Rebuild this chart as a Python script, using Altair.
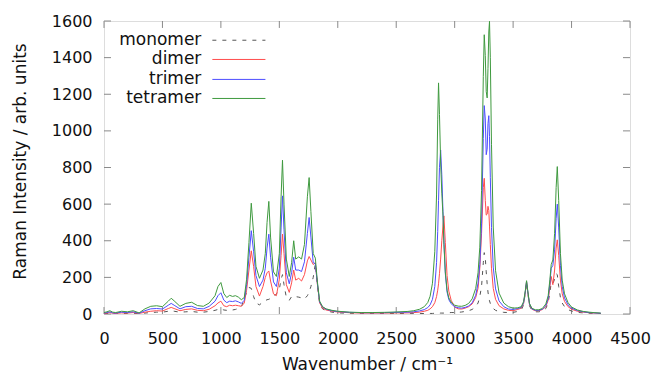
import altair as alt
import pandas as pd

# ---------------- data ----------------
wavenumber = [
    0, 25, 50, 75, 100,
    150, 200, 250, 300, 350,
    400, 450, 500, 550, 575,
    600, 650, 700, 750, 800,
    850, 900, 950, 975, 1000,
    1025, 1050, 1075, 1100, 1125,
    1150, 1175, 1200, 1220, 1240,
    1260, 1280, 1300, 1330, 1360,
    1380, 1395, 1410, 1425, 1450,
    1475, 1500, 1515, 1527, 1540,
    1560, 1585, 1605, 1623, 1640,
    1666, 1690, 1715, 1740, 1755,
    1770, 1790, 1808, 1825, 1845,
    1870, 1900, 1950, 2000, 2100,
    2200, 2300, 2400, 2500,
    2600, 2650, 2700, 2740, 2770,
    2790, 2810, 2830, 2845, 2855,
    2862, 2870, 2880, 2890, 2900,
    2908, 2920, 2935, 2950, 2970,
    3000, 3030, 3060, 3090, 3120,
    3150, 3180, 3200, 3215, 3230,
    3245, 3253, 3262, 3270, 3278,
    3285, 3292, 3298, 3305, 3315,
    3330, 3350, 3380, 3420, 3460,
    3500, 3540, 3570, 3590, 3605,
    3615, 3625, 3640, 3660, 3690,
    3720, 3750, 3780, 3800, 3815,
    3826, 3840, 3855, 3868, 3878,
    3890, 3905, 3920, 3940, 3970,
    4000, 4050, 4100, 4150, 4200,
    4250,
]

monomer = [
    2, 3, 4, 2, 2,
    3, 3, 4, 2, 5,
    8, 10, 10, 15, 18,
    15, 10, 12, 14, 10,
    10, 14, 20, 25, 30,
    22, 20, 24, 22, 25,
    30, 40, 80, 120, 145,
    140, 95, 60, 50, 65,
    73, 78, 80, 85, 92,
    110, 135, 190, 215, 160,
    90, 75, 95, 100, 95,
    92, 88, 82, 100, 120,
    150, 200, 275, 160, 55,
    28, 18, 10, 6, 4,
    3, 3, 3, 3,
    2, 2, 2, 3, 3,
    3, 3, 4, 4, 4,
    4, 4, 5, 5, 5,
    5, 6, 6, 7, 8,
    8, 9, 11, 14, 18,
    25, 40, 60, 95, 150,
    280, 335, 305, 230, 165,
    120, 90, 72, 58, 44,
    30, 20, 13, 9, 8,
    9, 14, 22, 50, 118,
    172, 118, 45, 20, 12,
    12, 16, 30, 60, 120,
    170, 165, 190, 220, 215,
    150, 90, 60, 40, 24,
    16, 9, 6, 4, 3,
    2,
]

dimer = [
    3, 5, 8, 4, 3,
    6, 5, 8, 3, 10,
    15, 18, 16, 30, 36,
    30, 18, 25, 28, 20,
    18, 26, 45, 60, 70,
    45, 40, 48, 45, 48,
    45, 42, 60, 130, 240,
    345, 260, 150, 98, 150,
    200, 225, 235, 180, 110,
    100, 190, 320, 436, 330,
    160, 118, 170, 240, 185,
    195, 180, 215, 290, 314,
    295, 270, 280, 165, 60,
    32, 22, 15, 11, 7,
    5, 5, 5, 6,
    6, 8, 10, 15, 20,
    28, 40, 62, 95, 130,
    165, 220, 300, 400, 480,
    536, 390, 210, 125, 75,
    38, 28, 27, 32, 40,
    55, 90, 140, 250, 440,
    690, 741, 620, 540, 545,
    588, 565, 480, 380, 250,
    140, 80, 45, 28, 20,
    18, 25, 32, 58, 122,
    176, 122, 52, 26, 18,
    18, 24, 40, 75, 150,
    205, 160, 240, 360, 405,
    320, 185, 110, 68, 40,
    26, 15, 10, 7, 5,
    3,
]

trimer = [
    5, 8, 12, 6, 5,
    10, 8, 12, 4, 18,
    28, 30, 27, 48, 58,
    48, 28, 40, 42, 30,
    28, 42, 70, 100, 116,
    76, 62, 70, 68, 72,
    66, 58, 75, 160, 310,
    455, 340, 210, 150, 185,
    250, 360, 436, 310, 175,
    150, 250, 470, 645, 460,
    225, 165, 225, 310, 240,
    240, 232, 285, 440, 527,
    420, 280, 275, 170, 65,
    38, 26, 18, 13, 9,
    7, 7, 7, 9,
    10, 12, 17, 24, 35,
    50, 80, 150, 280, 450,
    620, 800, 895, 760, 560,
    400, 220, 120, 78, 56,
    40, 34, 32, 36, 44,
    61, 102, 168, 270, 496,
    959, 1138, 1065, 870, 900,
    1040, 1083, 969, 747, 472,
    256, 137, 71, 40, 27,
    25, 30, 36, 62, 126,
    178, 125, 55, 28, 20,
    20, 26, 45, 85, 170,
    250, 265, 350, 520, 600,
    470, 265, 150, 88, 50,
    32, 19, 12, 8, 6,
    4,
]

tetramer = [
    8, 12, 18, 10, 8,
    15, 12, 18, 6, 28,
    42, 45, 40, 70, 86,
    72, 42, 58, 64, 46,
    42, 60, 100, 150, 172,
    112, 90, 102, 96, 100,
    92, 78, 90, 190, 390,
    605, 440, 260, 195, 240,
    330, 500, 615, 420, 230,
    205, 330, 640, 840, 600,
    300, 205, 280, 400, 300,
    312, 300, 380, 640, 745,
    560, 330, 305, 180, 70,
    40, 28, 20, 15, 10,
    8, 8, 9, 11,
    14, 18, 26, 40, 63,
    97, 168, 340, 650, 1060,
    1262, 1090, 830, 660, 540,
    380, 230, 130, 88, 64,
    48, 43, 42, 47, 58,
    83, 140, 225, 365, 675,
    1298, 1525, 1411, 1215, 1180,
    1340, 1540, 1598, 1402, 927,
    475, 236, 114, 60, 40,
    32, 34, 40, 68, 130,
    182, 128, 58, 32, 23,
    23, 30, 55, 100, 190,
    270, 295, 440, 690, 805,
    620, 330, 185, 110, 62,
    38, 22, 14, 10, 7,
    5,
]

series_names = ["monomer", "dimer", "trimer", "tetramer"]
series_colors = ["#555555", "#ff4d4d", "#4d4dff", "#3f9a3f"]

x_ticks = [0, 500, 1000, 1500, 2000, 2500, 3000, 3500, 4000, 4500]
y_ticks = [0, 200, 400, 600, 800, 1000, 1200, 1400, 1600]

# legend placement in data coordinates
legend_y = [1495, 1390, 1281, 1177]
legend_text_x = 833
legend_line_x = [927, 1381]

FONT = "DejaVu Sans"
xscale = alt.Scale(domain=[0, 4500], nice=False, zero=False)
yscale = alt.Scale(domain=[0, 1600], nice=False, zero=False)

X_AXIS = alt.Axis(values=x_ticks, format="d", labelOverlap=False, labelFlush=False,
                  ticks=False, domain=False, grid=False,
                  labelFontSize=16, labelPadding=16, labelColor="#111111", labelFont=FONT,
                  title="Wavenumber / cm⁻¹", titleFontSize=17, titleFont=FONT,
                  titleFontWeight="normal", titleColor="#111111",
                  titleX=263, titleY=50, titleBaseline="middle", titleAlign="center")
Y_AXIS = alt.Axis(values=y_ticks, format="d", labelOverlap=False, labelFlush=False,
                  ticks=False, domain=False, grid=False,
                  labelFontSize=16, labelPadding=12, labelColor="#111111", labelFont=FONT,
                  title="Raman Intensity / arb. units", titleFontSize=17, titleFont=FONT,
                  titleFontWeight="normal", titleColor="#111111",
                  titleX=-84, titleY=140, titleBaseline="middle", titleAlign="center",
                  titleAngle=270)


def X(field="wn"):
    return alt.X(f"{field}:Q", scale=xscale, axis=X_AXIS)


def Y(field="v"):
    return alt.Y(f"{field}:Q", scale=yscale, axis=Y_AXIS)


# inward ticks on all four sides
tick_rows = []
for t in x_ticks:
    tick_rows.append({"wn": t, "wn2": t, "v": 0, "v2": 38})
    tick_rows.append({"wn": t, "wn2": t, "v": 1562, "v2": 1600})
for t in y_ticks:
    tick_rows.append({"wn": 0, "wn2": 60, "v": t, "v2": t})
    tick_rows.append({"wn": 4440, "wn2": 4500, "v": t, "v2": t})
ticks_df = pd.DataFrame(tick_rows)
ticks_layer = alt.Chart(ticks_df).mark_rule(color="#8a8a8a", strokeWidth=1).encode(
    x=X(), x2="wn2:Q", y=Y(), y2="v2:Q",
)

layers = [ticks_layer]
all_series = [monomer, dimer, trimer, tetramer]
for name, vals, col in zip(series_names, all_series, series_colors):
    df = pd.DataFrame({"wn": wavenumber, "v": vals})
    kw = dict(color=col, strokeWidth=1, clip=True)
    if name == "monomer":
        kw["strokeDash"] = [4, 6]
    layers.append(alt.Chart(df).mark_line(**kw).encode(x=X(), y=Y()))

for name, ly, col in zip(series_names, legend_y, series_colors):
    ldf = pd.DataFrame({"wn": [legend_text_x], "lx1": [legend_line_x[0]],
                        "lx2": [legend_line_x[1]], "v": [ly], "name": [name]})
    layers.append(
        alt.Chart(ldf).mark_text(align="right", baseline="middle", fontSize=17,
                                 font=FONT, color="#111111").encode(
            x=X(), y=Y(), text="name:N",
        )
    )
    rkw = dict(color=col, strokeWidth=1)
    if name == "monomer":
        rkw["strokeDash"] = [4, 6]
    layers.append(
        alt.Chart(ldf).mark_rule(**rkw).encode(x=X("lx1"), x2="lx2:Q", y=Y())
    )

chart = alt.layer(*layers).properties(
    width=526, height=293,
    autosize=alt.AutoSizeParams(type="none"),
    padding={"left": 104, "top": 21, "right": 25, "bottom": 60},
    background="white",
).configure_view(stroke="#8a8a8a", strokeWidth=1.2).configure(font=FONT)

chart.save("out.html", embed_options={"renderer": "svg", "actions": False})
